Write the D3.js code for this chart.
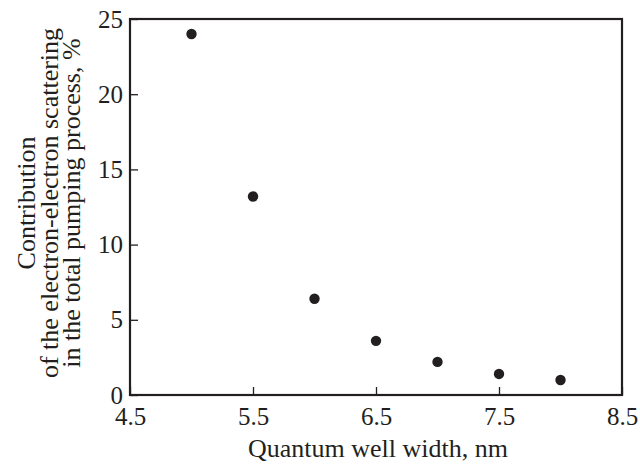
<!DOCTYPE html>
<html>
<head>
<meta charset="utf-8">
<script src="https://cdn.jsdelivr.net/npm/d3@7"></script>
<style>
  body { margin: 0; background: #fff; }
  text { font-family: "Liberation Serif", "Times New Roman", serif; fill: #231f20; }
</style>
</head>
<body>
<svg id="chart" width="640" height="464"></svg>
<script>
// quantum well width, nm
var widths = [5.0, 5.5, 6.0, 6.5, 7.0, 7.5, 8.0];
// contribution of e-e scattering, %
var contrib = [24.0, 13.2, 6.4, 3.6, 2.2, 1.4, 1.0];
var xTicks = [4.5, 5.5, 6.5, 7.5, 8.5];
var yTicks = [0, 5, 10, 15, 20, 25];

var svg = d3.select("#chart");
var pLeft = 130, pRight = 622, pTop = 19, pBottom = 395;

var x = d3.scaleLinear().domain([4.5, 8.5]).range([pLeft, pRight]);
var y = d3.scaleLinear().domain([0, 25]).range([pBottom, pTop]);

// frame
svg.append("rect")
    .attr("x", pLeft).attr("y", pTop)
    .attr("width", pRight - pLeft).attr("height", pBottom - pTop)
    .attr("fill", "none")
    .attr("stroke", "#231f20")
    .attr("stroke-width", 2.2);

// bottom axis, ticks inward
var xAxis = svg.append("g")
    .attr("transform", "translate(0," + pBottom + ")")
    .call(d3.axisBottom(x).tickValues(xTicks).tickSize(-8).tickPadding(12)
        .tickFormat(d3.format(".1f")));
xAxis.select(".domain").remove();
xAxis.selectAll("line").attr("stroke", "#231f20").attr("stroke-width", 1.3);
xAxis.selectAll("text").attr("font-size", 25).attr("fill", "#231f20");

// left axis
var yAxis = svg.append("g")
    .attr("transform", "translate(" + pLeft + ",0)")
    .call(d3.axisLeft(y).tickValues(yTicks).tickSize(-8).tickPadding(7));
yAxis.select(".domain").remove();
yAxis.selectAll("line").attr("stroke", "#231f20").attr("stroke-width", 1.3);
yAxis.selectAll("text").attr("font-size", 25).attr("fill", "#231f20");

// points
svg.selectAll("circle.pt")
    .data(widths)
    .enter().append("circle")
    .attr("class", "pt")
    .attr("cx", function (d) { return x(d); })
    .attr("cy", function (d, i) { return y(contrib[i]); })
    .attr("r", 5.2)
    .attr("fill", "#231f20");

// x title
svg.append("text")
    .attr("x", 378)
    .attr("y", 457)
    .attr("text-anchor", "middle")
    .attr("font-size", 26)
    .text("Quantum well width, nm");

// y title, three lines
var yTitle = ["Contribution", "of the electron-electron scattering", "in the total pumping process, %"];
var yt = svg.append("text")
    .attr("transform", "translate(35,203) rotate(-90)")
    .attr("text-anchor", "middle")
    .attr("font-size", 26);
yTitle.forEach(function (s, i) {
    yt.append("tspan").attr("x", 0).attr("y", i * 22.5).text(s);
});
</script>
</body>
</html>
